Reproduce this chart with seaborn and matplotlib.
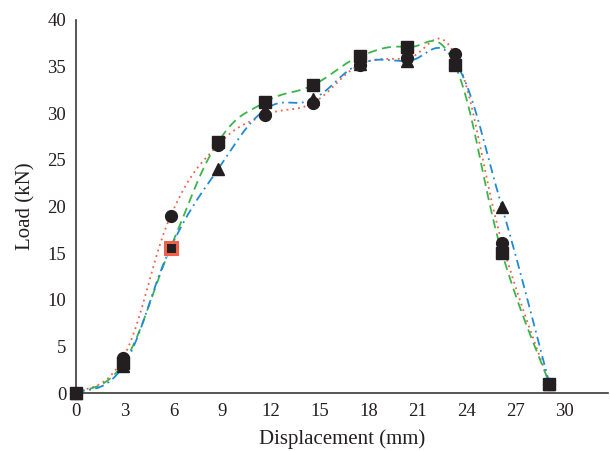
import numpy as np
import pandas as pd
import seaborn as sns
import matplotlib.pyplot as plt

# data
disp = [0, 2.91, 5.82, 8.73, 11.64, 14.55, 17.46, 20.37, 23.28, 26.19, 29.1]
load_circle = [0, 3.8, 19.0, 26.6, 29.8, 31.1, 35.2, 35.9, 36.3, 16.1, 1.0]
load_square = [0, 3.2, 15.6, 26.9, 31.2, 33.0, 36.1, 37.1, 35.2, 15.0, 1.0]
load_triangle = [0, 2.9, 15.6, 24.0, 30.4, 31.5, 35.3, 35.6, 35.6, 19.9, 1.0]
x_ticks = [0, 3, 6, 9, 12, 15, 18, 21, 24, 27, 30]
y_ticks = [0, 5, 10, 15, 20, 25, 30, 35, 40]


def smooth(x, y, f=0.2, n=40):
    # excel-like smoothed line: bezier segments through each point
    x = np.asarray(x, float)
    y = np.asarray(y, float)
    pts = np.column_stack([x, y])
    out = []
    for i in range(len(pts) - 1):
        p0 = pts[max(i - 1, 0)]
        p1 = pts[i]
        p2 = pts[i + 1]
        p3 = pts[min(i + 2, len(pts) - 1)]
        c1 = p1 + (p2 - p0) * f
        c2 = p2 - (p3 - p1) * f
        t = np.linspace(0, 1, n)[:, None]
        seg = ((1 - t) ** 3) * p1 + 3 * ((1 - t) ** 2) * t * c1 + 3 * (1 - t) * t ** 2 * c2 + t ** 3 * p2
        out.append(seg if i == 0 else seg[1:])
    out = np.vstack(out)
    return pd.DataFrame({'x': out[:, 0], 'y': out[:, 1]})


sns.set_style('white')
plt.rcParams['font.family'] = ['Liberation Serif', 'DejaVu Serif']

fig = plt.figure(figsize=(6.1, 4.51), dpi=100)
ax = fig.add_axes([0.1246, 0.1286, 0.8721, 0.8271])

lines = [
    (load_circle, '#f0604a', (0, (1, 2.2))),
    (load_square, '#3bb54a', (0, (5, 3))),
    (load_triangle, '#1f8bd6', (0, (5, 2.5, 1, 2.5))),
]
for y, col, ls in lines:
    s = smooth(disp, y)
    sns.lineplot(data=s, x='x', y='y', sort=False, color=col, lw=1.3,
                 linestyle=ls, ax=ax, clip_on=False, zorder=2)

marks = [(load_triangle, '^', 9), (load_square, 's', 8), (load_circle, 'o', 8.5)]
for y, m, ms in marks:
    ax.plot(disp, y, linestyle='none', marker=m, ms=ms, color='#231f20',
            clip_on=False, zorder=3)

# highlighted point
ax.plot(disp[2], load_square[2], linestyle='none', marker='s', ms=9,
        mfc='#231f20', mec='#f0604a', mew=2.2, zorder=4)

ax.set_xlim(0, 32.7)
ax.set_ylim(0, 40)
ax.set_xticks(x_ticks)
ax.set_yticks(y_ticks)
ax.tick_params(length=0, labelsize=13.5, colors='#231f20', pad=7)
for side in ['top', 'right']:
    ax.spines[side].set_visible(False)
for side in ['left', 'bottom']:
    ax.spines[side].set_color('#3a3a3a')
    ax.spines[side].set_linewidth(1.2)
ax.set_xlabel('Displacement (mm)', fontsize=15, color='#231f20', labelpad=7)
ax.set_ylabel('Load (kN)', fontsize=15, color='#231f20', labelpad=9)

plt.savefig('out.png', dpi=100)
